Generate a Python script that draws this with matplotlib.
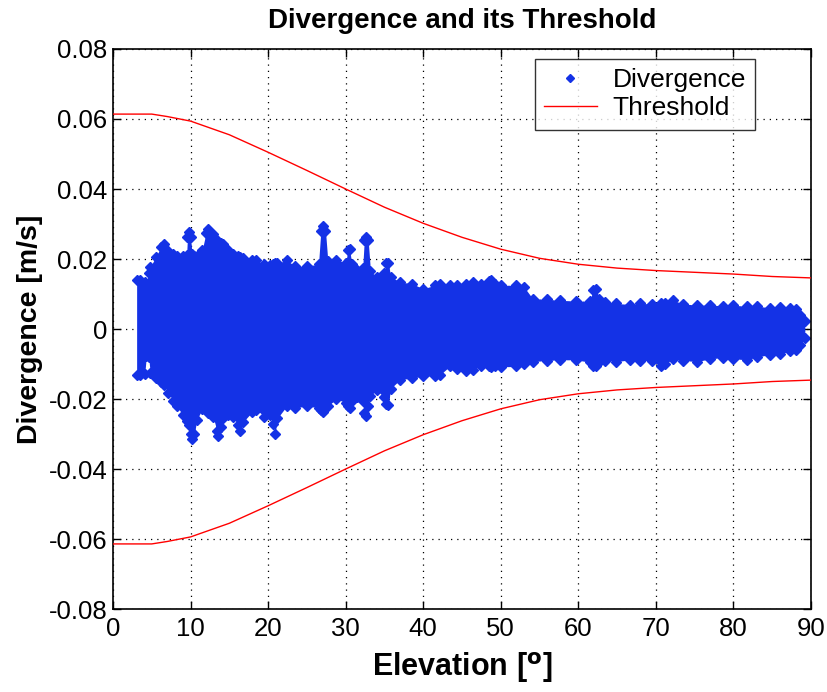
import numpy as np
import matplotlib
matplotlib.use("Agg")
import matplotlib.pyplot as plt

# =========================================================
# DATA
# =========================================================

# threshold curve (upper branch, lower branch is its mirror)
thr_elev = [0, 2, 5, 7, 10, 15, 20, 25, 30, 35, 40, 45,
            50, 55, 60, 65, 70, 75, 80, 85, 90]
thr_value = [0.0614, 0.0614, 0.0614, 0.0607, 0.0594, 0.0555, 0.0505,
             0.0453, 0.0400, 0.0348, 0.0302, 0.0262, 0.0228, 0.0202,
             0.0185, 0.0174, 0.0167, 0.0162, 0.0157, 0.0150, 0.0146]

# divergence cloud: upper / lower extent of the scatter at each elevation
div_elev = [3.05, 3.5, 4.1, 4.3, 4.6, 4.8, 5.5, 6.2, 6.6, 7.1, 7.8, 8.2,
            9.0, 9.5, 9.6, 9.8, 10.0, 10.2, 10.5, 10.8, 11.5, 12.0, 12.3,
            12.9, 13.4, 13.6, 13.9, 14.2, 14.8, 15.5, 16.1, 16.4, 16.8,
            17.9, 18.5, 19.5, 20.2, 20.6, 20.9, 21.2, 22.4, 23.5, 25.0,
            26.5, 26.8, 27.1, 27.4, 27.7, 28.8, 30.0, 30.3, 30.5, 30.8,
            31.4, 32.2, 32.4, 32.6, 32.9, 33.2, 34.0, 35.0, 35.2, 35.5,
            35.8, 37.0, 38.5, 40.0, 41.5, 42.2, 43.4, 44.3, 45.5, 46.4,
            47.5, 48.5, 48.8, 49.2, 50.0, 52.0, 53.0, 54.1, 56.0, 57.6,
            59.7, 61.5, 61.9, 62.3, 62.7, 63.5, 64.9, 66.7, 68.0, 69.5,
            70.7, 71.2, 72.2, 73.5, 75.3, 77.0, 78.6, 80.0, 81.7, 83.0,
            84.7, 86.0, 87.3, 88.0, 88.6, 89.2]
div_upper = [0.0139, 0.0139, 0.0135, 0.0130, 0.0160, 0.0177, 0.0205, 0.0235,
             0.0243, 0.0222, 0.0215, 0.0210, 0.0210, 0.0212, 0.0262, 0.0276,
             0.0262, 0.0215, 0.0210, 0.0210, 0.0225, 0.0275, 0.0285, 0.0271,
             0.0255, 0.0250, 0.0245, 0.0243, 0.0225, 0.0215, 0.0208, 0.0205,
             0.0202, 0.0196, 0.0196, 0.0185, 0.0182, 0.0185, 0.0190, 0.0188,
             0.0196, 0.0180, 0.0180, 0.0185, 0.0280, 0.0295, 0.0280, 0.0195,
             0.0196, 0.0190, 0.0225, 0.0229, 0.0185, 0.0168, 0.0175, 0.0255,
             0.0262, 0.0255, 0.0165, 0.0149, 0.0160, 0.0188, 0.0190, 0.0150,
             0.0134, 0.0130, 0.0115, 0.0125, 0.0130, 0.0125, 0.0125, 0.0130,
             0.0134, 0.0128, 0.0138, 0.0140, 0.0130, 0.0125, 0.0125, 0.0120,
             0.0087, 0.0085, 0.0082, 0.0080, 0.0080, 0.0112, 0.0115, 0.0085,
             0.0078, 0.0073, 0.0070, 0.0073, 0.0072, 0.0073, 0.0075, 0.0082,
             0.0072, 0.0068, 0.0070, 0.0065, 0.0068, 0.0065, 0.0066, 0.0060,
             0.0062, 0.0060, 0.0058, 0.0041, 0.0023]
div_lower = [-0.0130, -0.0132, -0.0128, -0.0078, -0.0080, -0.0125, -0.0140,
             -0.0150, -0.0160, -0.0182, -0.0205, -0.0220, -0.0245, -0.0250,
             -0.0262, -0.0275, -0.0300, -0.0315, -0.0300, -0.0260, -0.0229,
             -0.0232, -0.0240, -0.0250, -0.0290, -0.0305, -0.0280, -0.0255,
             -0.0246, -0.0250, -0.0275, -0.0291, -0.0265, -0.0238, -0.0230,
             -0.0250, -0.0245, -0.0270, -0.0300, -0.0255, -0.0220, -0.0225,
             -0.0220, -0.0225, -0.0230, -0.0238, -0.0225, -0.0220, -0.0200,
             -0.0210, -0.0220, -0.0226, -0.0205, -0.0195, -0.0205, -0.0240,
             -0.0248, -0.0220, -0.0190, -0.0175, -0.0195, -0.0215, -0.0217,
             -0.0170, -0.0145, -0.0140, -0.0135, -0.0135, -0.0130, -0.0107,
             -0.0113, -0.0120, -0.0116, -0.0105, -0.0107, -0.0108, -0.0105,
             -0.0108, -0.0107, -0.0100, -0.0093, -0.0090, -0.0088, -0.0088,
             -0.0095, -0.0105, -0.0107, -0.0095, -0.0090, -0.0093, -0.0088,
             -0.0090, -0.0092, -0.0107, -0.0100, -0.0085, -0.0090, -0.0093,
             -0.0085, -0.0082, -0.0085, -0.0088, -0.0080, -0.0073, -0.0070,
             -0.0064, -0.0060, -0.0045, -0.0025]

BLUE = "#1432e6"

# =========================================================
# PLOT
# =========================================================

plt.rcParams["font.family"] = ["Liberation Sans", "DejaVu Sans"]

fig = plt.figure(figsize=(8.27, 6.92), dpi=100)
ax = fig.add_axes([0.1366, 0.1199, 0.8441, 0.8093])

elev = np.array(div_elev)
up = np.array(div_upper)
lo = np.array(div_lower)

# dense scatter cloud: filled envelope + diamond markers on its edges
ax.fill_between(elev, lo, up, color=BLUE, lw=0, zorder=2)
ax.plot(elev, up, ls="none", marker="D", ms=5, color=BLUE, zorder=2)
ax.plot(elev, lo, ls="none", marker="D", ms=5, color=BLUE, zorder=2)
ax.plot([], [], ls="none", marker="D", ms=4, color=BLUE, label="Divergence")

thr = np.array(thr_value)
ax.plot(thr_elev, thr, color="red", lw=1.0, label="Threshold", zorder=3)
ax.plot(thr_elev, -thr, color="red", lw=1.0, zorder=3)

ax.set_xlim(0, 90)
ax.set_ylim(-0.08, 0.08)
ax.set_xticks(np.arange(0, 91, 10))
ax.set_yticks(np.arange(-0.08, 0.081, 0.02))
ax.set_yticklabels(["-0.08", "-0.06", "-0.04", "-0.02", "0",
                    "0.02", "0.04", "0.06", "0.08"])

ax.grid(True, ls=(0, (1, 4)), color="black", lw=0.9)
ax.tick_params(direction="in", length=6, width=1, labelsize=18.5,
               top=True, right=True, pad=4)
ax.tick_params(axis="x", pad=6)
for sp in ax.spines.values():
    sp.set_linewidth(1.2)

ax.set_title("Divergence and its Threshold", fontsize=20,
             fontweight="bold", pad=15)
ax.set_xlabel(r"Elevation [$^{\mathbf{o}}$]", fontsize=22,
              fontweight="bold", labelpad=6)
ax.set_ylabel("Divergence [m/s]", fontsize=20.5, fontweight="bold",
              labelpad=4)

leg = ax.legend(loc="upper right", bbox_to_anchor=(0.92, 0.982),
                fontsize=19, frameon=True, fancybox=False,
                edgecolor="black", handlelength=2.0, borderpad=0.35,
                labelspacing=0.15, handletextpad=0.6, borderaxespad=0)
leg.get_frame().set_linewidth(1.0)

fig.savefig("out.png", dpi=100)
plt.close(fig)
